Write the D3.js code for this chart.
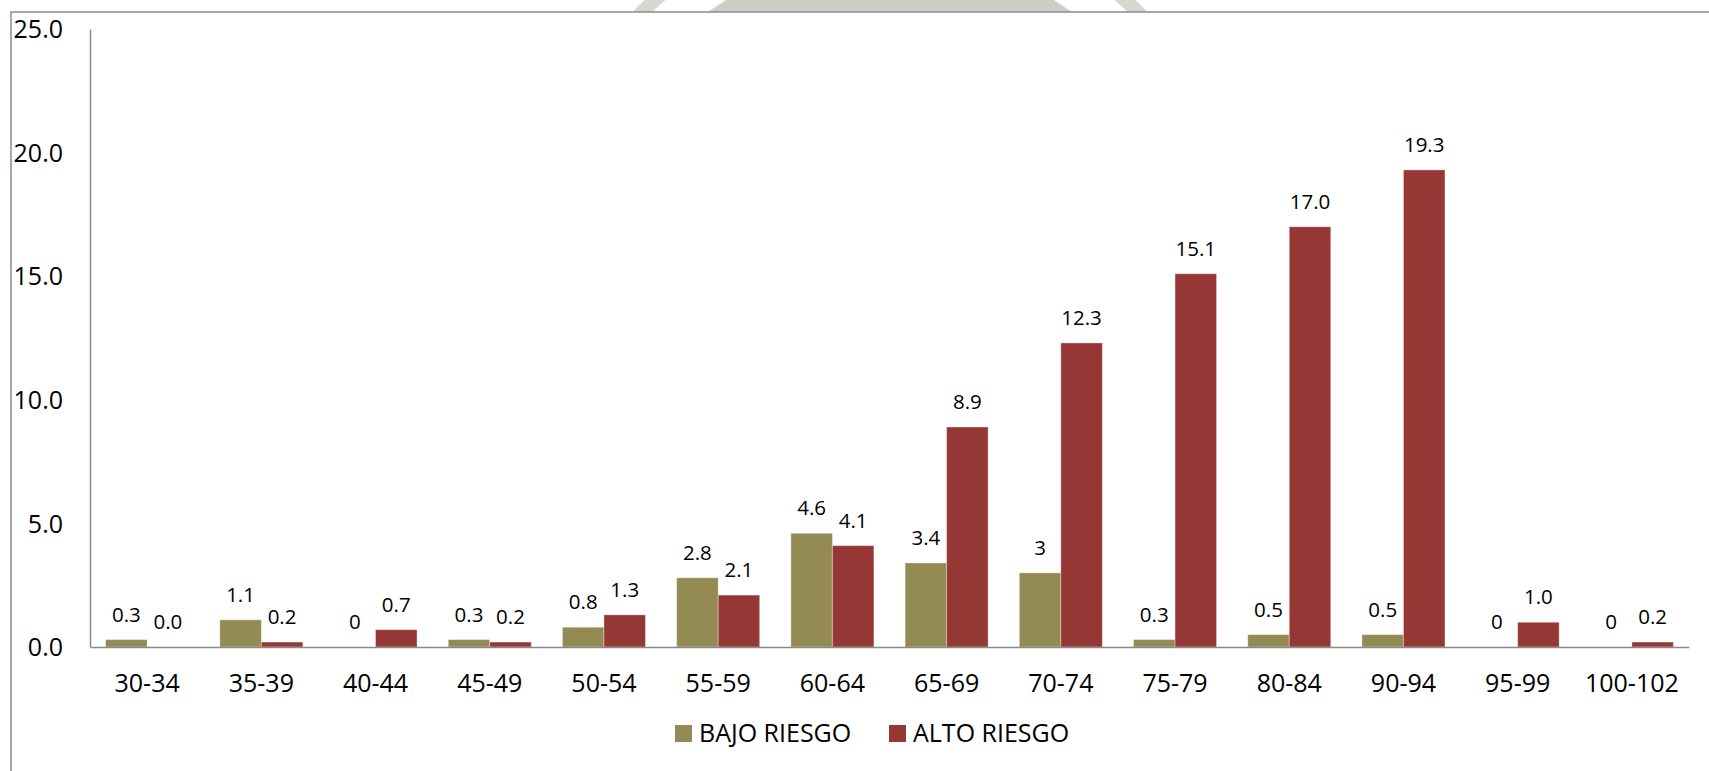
<!DOCTYPE html>
<html>
<head>
<meta charset="utf-8">
<script src="https://cdn.jsdelivr.net/npm/d3@7"></script>
<style>
  html, body { margin: 0; padding: 0; background: #ffffff; }
  svg { display: block; font-family: "Open Sans", "Noto Sans", sans-serif; }
</style>
</head>
<body>
<svg id="chart" width="1709" height="771"></svg>
<script>
// Age groups (years)
const categories = ["30-34", "35-39", "40-44", "45-49", "50-54", "55-59", "60-64",
                    "65-69", "70-74", "75-79", "80-84", "90-94", "95-99", "100-102"];
// Percentage per age group for each risk level
const bajoRiesgo = [0.3, 1.1, 0, 0.3, 0.8, 2.8, 4.6, 3.4, 3, 0.3, 0.5, 0.5, 0, 0];
const altoRiesgo = [0.0, 0.2, 0.7, 0.2, 1.3, 2.1, 4.1, 8.9, 12.3, 15.1, 17.0, 19.3, 1.0, 0.2];
const seriesNames = ["BAJO RIESGO", "ALTO RIESGO"];
const seriesColors = ["#948a54", "#953735"];
const yTicks = [0, 5, 10, 15, 20, 25];

const svg = d3.select("#chart");

// Faint seal in the page background, peeking above the chart frame
const seal = svg.append("g").attr("fill", "none");
seal.append("circle").attr("cx", 890).attr("cy", 262).attr("r", 274)
  .attr("stroke", "#cad1c4").attr("stroke-width", 70);
seal.append("circle").attr("cx", 890).attr("cy", 262).attr("r", 352)
  .attr("stroke", "#d3d9ce").attr("stroke-width", 14);

// Chart frame (white area with grey border)
svg.append("rect")
  .attr("x", 11).attr("y", 12).attr("width", 1760).attr("height", 800)
  .attr("fill", "#ffffff").attr("stroke", "#8c8c8c").attr("stroke-width", 1.5);

const plot = { left: 90, right: 1689, top: 29, bottom: 647 };

const x0 = d3.scaleBand().domain(categories).range([plot.left, plot.right]).padding(0);
const x1 = d3.scaleBand().domain(seriesNames).range([0, x0.bandwidth()])
  .paddingInner(0).paddingOuter(0.376);
const y = d3.scaleLinear().domain([0, 25]).range([plot.bottom, plot.top]);

const data = categories.map((c, i) => ({
  cat: c,
  values: [
    { s: seriesNames[0], v: bajoRiesgo[i], label: String(bajoRiesgo[i]), color: seriesColors[0] },
    { s: seriesNames[1], v: altoRiesgo[i], label: d3.format(".1f")(altoRiesgo[i]), color: seriesColors[1] }
  ]
}));

// Bars
const groups = svg.append("g").selectAll("g").data(data).join("g")
  .attr("transform", d => `translate(${x0(d.cat)},0)`);

groups.selectAll("rect").data(d => d.values.filter(e => e.v > 0)).join("rect")
  .attr("x", d => x1(d.s))
  .attr("width", x1.bandwidth())
  .attr("y", d => y(d.v))
  .attr("height", d => y(0) - y(d.v))
  .attr("fill", d => d.color)
  .attr("stroke", "rgba(255,255,255,0.35)")
  .attr("stroke-width", 1);

// Value labels above bars
groups.selectAll("text").data(d => d.values).join("text")
  .attr("x", d => x1(d.s) + x1.bandwidth() / 2)
  .attr("y", d => y(d.v) - 18)
  .attr("text-anchor", "middle")
  .attr("font-size", 20.5)
  .attr("fill", "#000")
  .text(d => d.label);

// Y axis
const yAxis = svg.append("g").attr("transform", `translate(${plot.left},0)`)
  .call(d3.axisLeft(y).tickValues(yTicks).tickFormat(d3.format(".1f")).tickSize(0).tickPadding(27));
yAxis.select(".domain").attr("stroke", "#8a8a8a").attr("stroke-width", 1.5);
yAxis.selectAll("text").attr("font-size", 25).attr("fill", "#000")
  .attr("font-family", "\"Open Sans\", sans-serif").attr("dy", "0.35em");

// X axis
const xAxis = svg.append("g").attr("transform", `translate(0,${plot.bottom})`)
  .call(d3.axisBottom(x0).tickSize(0).tickPadding(27));
xAxis.select(".domain").attr("stroke", "#8a8a8a").attr("stroke-width", 1.5);
xAxis.selectAll("text").attr("font-size", 25).attr("fill", "#000")
  .attr("font-family", "\"Open Sans\", sans-serif").attr("dy", "0.71em");

// Legend
const legendItems = [
  { name: seriesNames[0], color: seriesColors[0], x: 675 },
  { name: seriesNames[1], color: seriesColors[1], x: 889 }
];
const legend = svg.append("g").selectAll("g").data(legendItems).join("g")
  .attr("transform", d => `translate(${d.x},725)`);
legend.append("rect").attr("width", 17).attr("height", 17).attr("fill", d => d.color);
legend.append("text").attr("x", 24).attr("y", 17).attr("font-size", 25).attr("fill", "#000")
  .text(d => d.name);
</script>
</body>
</html>
